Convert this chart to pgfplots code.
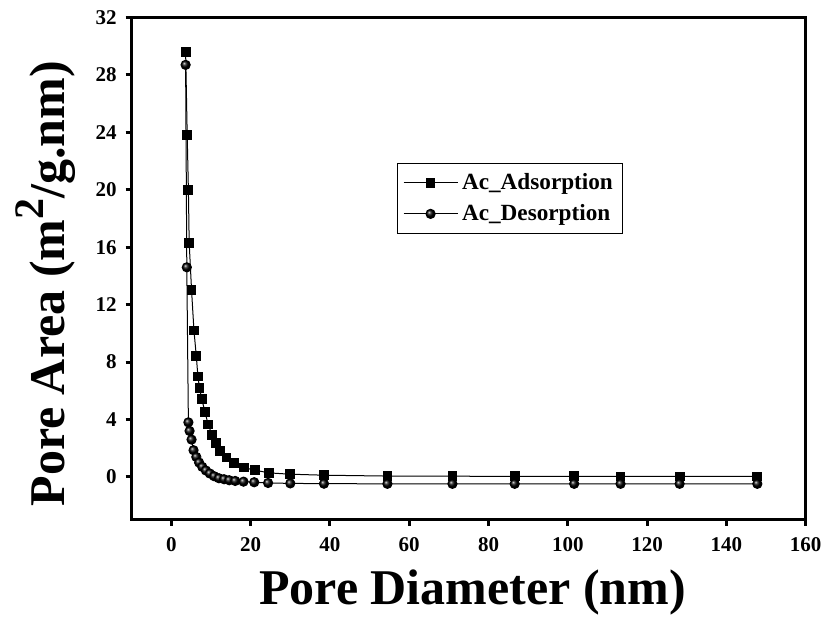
\documentclass[border=0pt]{standalone}
\usepackage{fontspec}
\setmainfont{Liberation Serif}
\usepackage{pgfplots}
\pgfplotsset{compat=1.18}

% BJH pore area distribution, adsorption and desorption branches
\pgfplotstableread{
x y
3.6 29.6
4.0 23.8
4.3 20.0
4.5 16.3
5.1 13.0
5.7 10.2
6.3 8.4
6.7 7.0
7.1 6.2
7.7 5.4
8.5 4.5
9.3 3.65
10.3 2.9
11.2 2.37
12.3 1.81
13.9 1.35
15.9 0.98
18.3 0.65
21.0 0.47
24.7 0.28
30.0 0.19
38.5 0.12
54.5 0.06
70.9 0.05
86.6 0.04
101.6 0.04
113.3 0.03
128.2 0.03
147.8 0.03
}\adsorption

\pgfplotstableread{
x y
3.6 28.7
3.9 14.6
4.3 3.8
4.6 3.2
5.1 2.6
5.6 1.86
6.3 1.39
7.0 1.0
7.8 0.7
8.7 0.45
9.7 0.24
10.8 0.05
12.0 -0.09
13.3 -0.16
14.6 -0.23
16.1 -0.28
18.2 -0.33
20.9 -0.37
24.4 -0.42
30.0 -0.45
38.5 -0.47
54.5 -0.48
70.9 -0.48
86.6 -0.48
101.6 -0.48
113.3 -0.48
128.2 -0.48
147.8 -0.48
}\desorption

\begin{document}
\begin{tikzpicture}
\path[use as bounding box] (0,0) rectangle (412.5pt,310.5pt);
\begin{axis}[
  at={(65.85pt,50.5pt)}, anchor=south west,
  scale only axis, width=337pt, height=251.25pt,
  xmin=-10, xmax=160, ymin=-3, ymax=32,
  xtick={0,20,...,160}, ytick={0,4,...,32},
  tick pos=left, tick align=outside,
  major tick length=3pt,
  every tick/.style={line width=1.5pt, black},
  axis line style={line width=1.5pt, line cap=rect},
  /pgf/number format/assume math mode=true,
  ticklabel style={font=\fontsize{10.5}{12}\selectfont\bfseries},
  xticklabel style={yshift=-2pt},
  yticklabel style={xshift=-1pt},
  xlabel={Pore Diameter (nm)},
  ylabel={Pore Area (m\raisebox{0.42em}{\fontsize{21}{21}\selectfont 2}/g.nm)},
  label style={font=\fontsize{25}{30}\selectfont\bfseries},
  xlabel style={at={(axis description cs:0.5,0)}, anchor=center, yshift=-36pt, xshift=2pt},
  ylabel style={at={(axis description cs:-0.127,0.47)}, anchor=center},
  legend style={at={(0.393,0.711)}, anchor=north west, draw=black,
    line width=0.5pt, inner xsep=3pt, inner ysep=3pt, row sep=2pt,
    font=\fontsize{11.6}{13}\selectfont\bfseries, cells={anchor=west}},
  legend image code/.code={
    \draw[mark repeat=2, mark phase=2, line width=0.5pt]
      plot coordinates {(0pt,0pt) (13.5pt,0pt) (27pt,0pt)};},
]
\addplot[black, line width=0.5pt, mark=square*, mark size=2.2pt,
  mark options={solid, fill=black}] table[x=x, y=y] {\adsorption};
\addlegendentry{Ac\_Adsorption}
\addplot[black, line width=0.5pt, mark=ball, mark size=2.3pt,
  mark options={ball color=black}] table[x=x, y=y] {\desorption};
\addlegendentry{Ac\_Desorption}
\end{axis}
\end{tikzpicture}
\end{document}
